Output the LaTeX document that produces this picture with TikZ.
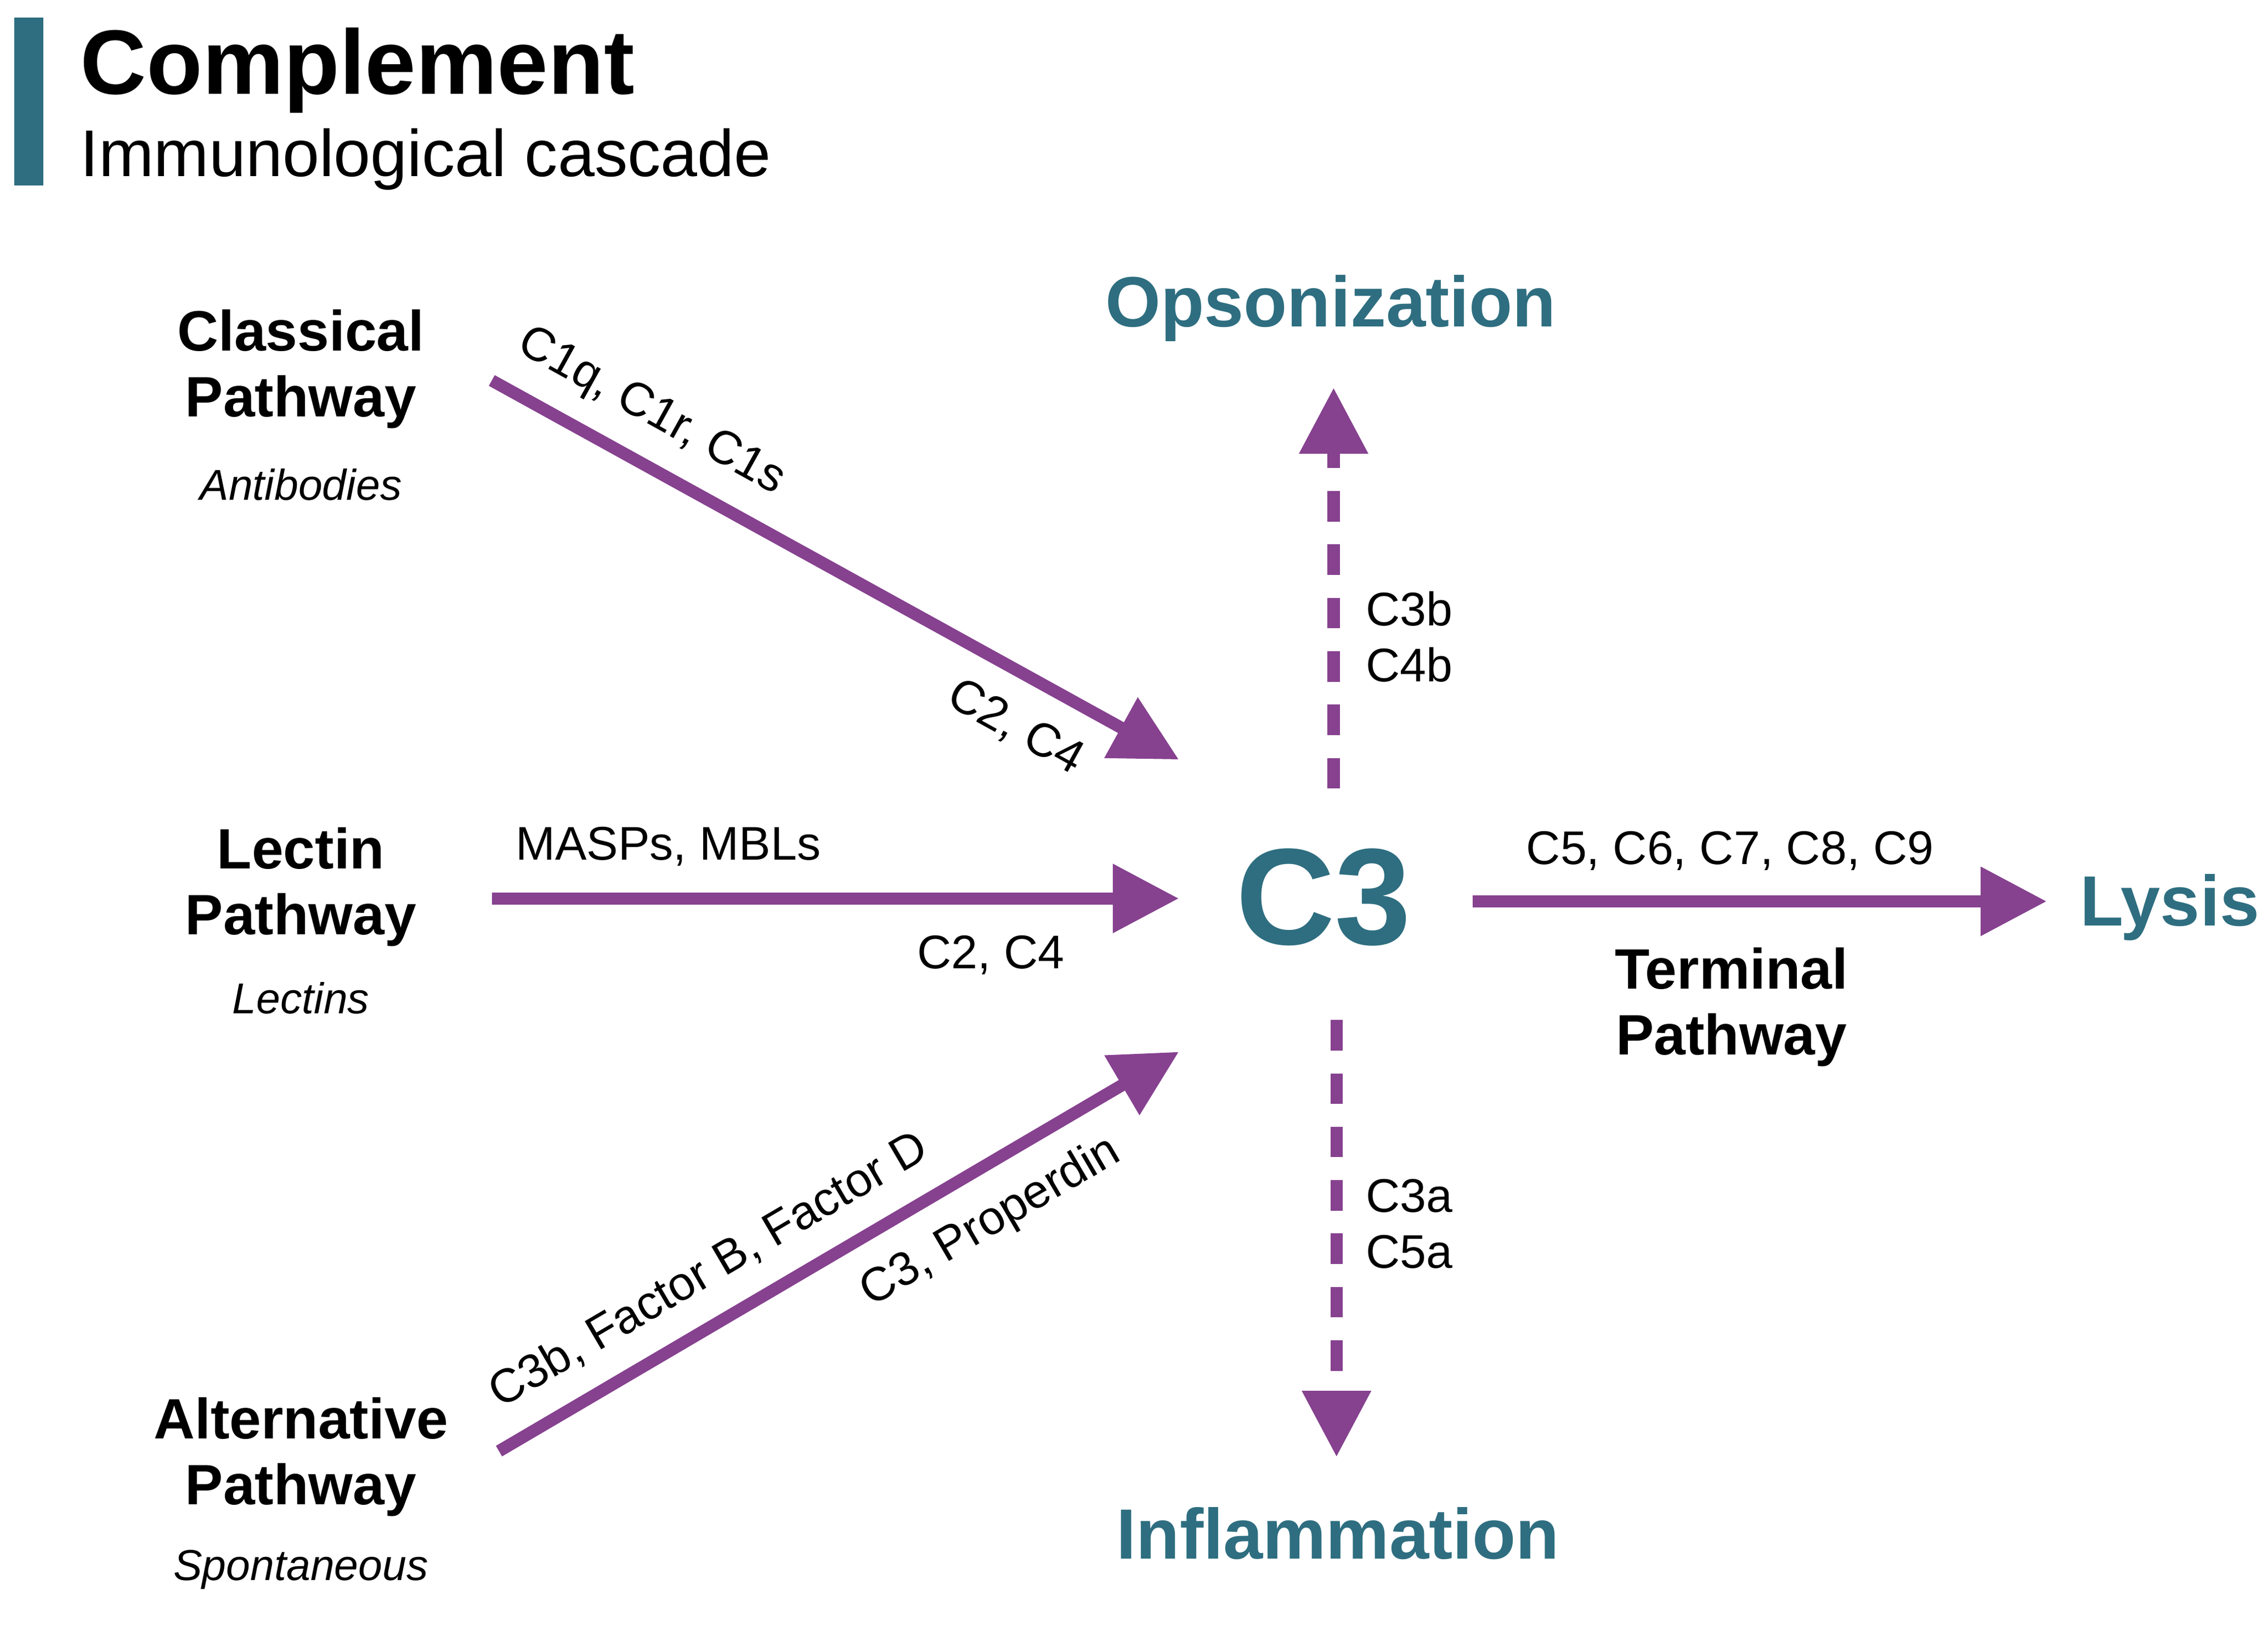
\documentclass[tikz,border=0pt]{standalone}
\usepackage{fontspec}
\setmainfont{Liberation Sans}
\usetikzlibrary{arrows.meta,positioning}
\definecolor{teal}{HTML}{2E6E80}
\definecolor{purp}{HTML}{86418F}
\tikzset{
  flow/.style={purp,line width=2.4pt,-{Triangle[length=13pt,width=13pt]}},
  dflow/.style={flow,dash pattern=on 6pt off 4.5pt},
  pathname/.style={font=\fontsize{11.2}{13}\selectfont\bfseries,align=center},
  src/.style={font=\fontsize{8.5}{10}\selectfont\itshape},
  lbl/.style={font=\fontsize{9.3}{11}\selectfont,inner sep=1pt},
  result/.style={font=\fontsize{14}{16}\selectfont\bfseries,text=teal},
}
\begin{document}
\begin{tikzpicture}[y=-1cm,x=1cm]
  \useasboundingbox (0,0) rectangle (15.68,11.23);
  % header
  \fill[teal] (0.10,0.12) rectangle (0.30,1.28);
  \node[anchor=base west,inner sep=0,font=\fontsize{18}{20}\selectfont\bfseries] (title) at (0.55,0.65) {Complement};
  \node[anchor=base west,inner sep=0,font=\fontsize{13}{15}\selectfont] (sub) at (0.55,1.22) {Immunological cascade};
  % sources
  \node[pathname] (cls) at (2.08,2.55) {Classical\\Pathway};
  \node[src] (cab) at (2.08,3.35) {Antibodies};
  \node[pathname] (lec) at (2.08,6.13) {Lectin\\Pathway};
  \node[src] (lab) at (2.08,6.90) {Lectins};
  \node[pathname] (alt) at (2.08,10.07) {Alternative\\Pathway};
  \node[src] (aab) at (2.08,10.85) {Spontaneous};
  % center and outputs
  \node[font=\fontsize{27}{29}\selectfont\bfseries,text=teal] (c3) at (9.15,6.20) {C3};
  \node[result] (ops) at (9.20,2.13) {Opsonization};
  \node[result] (inf) at (9.25,10.60) {Inflammation};
  \node[result] (lys) at (15.00,6.27) {Lysis};
  \node[pathname] (term) at (11.97,6.96) {Terminal\\Pathway};
  % arrow ends
  \coordinate (a1) at (3.40,2.63); \coordinate (b1) at (8.15,5.25);
  \coordinate (a2) at (3.40,6.21); \coordinate (b2) at (8.15,6.21);
  \coordinate (a3) at (3.45,10.03); \coordinate (b3) at (8.15,7.27);
  \coordinate (a4) at (9.22,5.45); \coordinate (b4) at (9.22,2.68);
  \coordinate (a5) at (9.24,7.05); \coordinate (b5) at (9.24,10.07);
  \coordinate (a6) at (10.18,6.23); \coordinate (b6) at (14.15,6.23);
  \draw[flow] (a1) -- (b1);
  \draw[flow] (a2) -- (b2);
  \draw[flow] (a3) -- (b3);
  \draw[dflow] (a4) -- (b4);
  \draw[dflow] (a5) -- (b5);
  \draw[flow] (a6) -- (b6);
  % labels
  \node[lbl,rotate=-29] (l1) at (4.50,2.85) {C1q, C1r, C1s};
  \node[lbl,rotate=-29] (l2) at (7.02,5.03) {C2, C4};
  \node[lbl] (l3) at (4.62,5.85) {MASPs, MBLs};
  \node[lbl] (l4) at (6.85,6.60) {C2, C4};
  \node[lbl,rotate=30.4] (l5) at (4.90,8.78) {C3b, Factor B, Factor D};
  \node[lbl,rotate=30.4] (l6) at (6.85,8.45) {C3, Properdin};
  \node[lbl,anchor=west,align=left] (l7) at (9.40,4.40) {C3b\\C4b};
  \node[lbl,anchor=west,align=left] (l8) at (9.40,8.46) {C3a\\C5a};
  \node[lbl] (l9) at (11.96,5.88) {C5, C6, C7, C8, C9};
\end{tikzpicture}
\end{document}
